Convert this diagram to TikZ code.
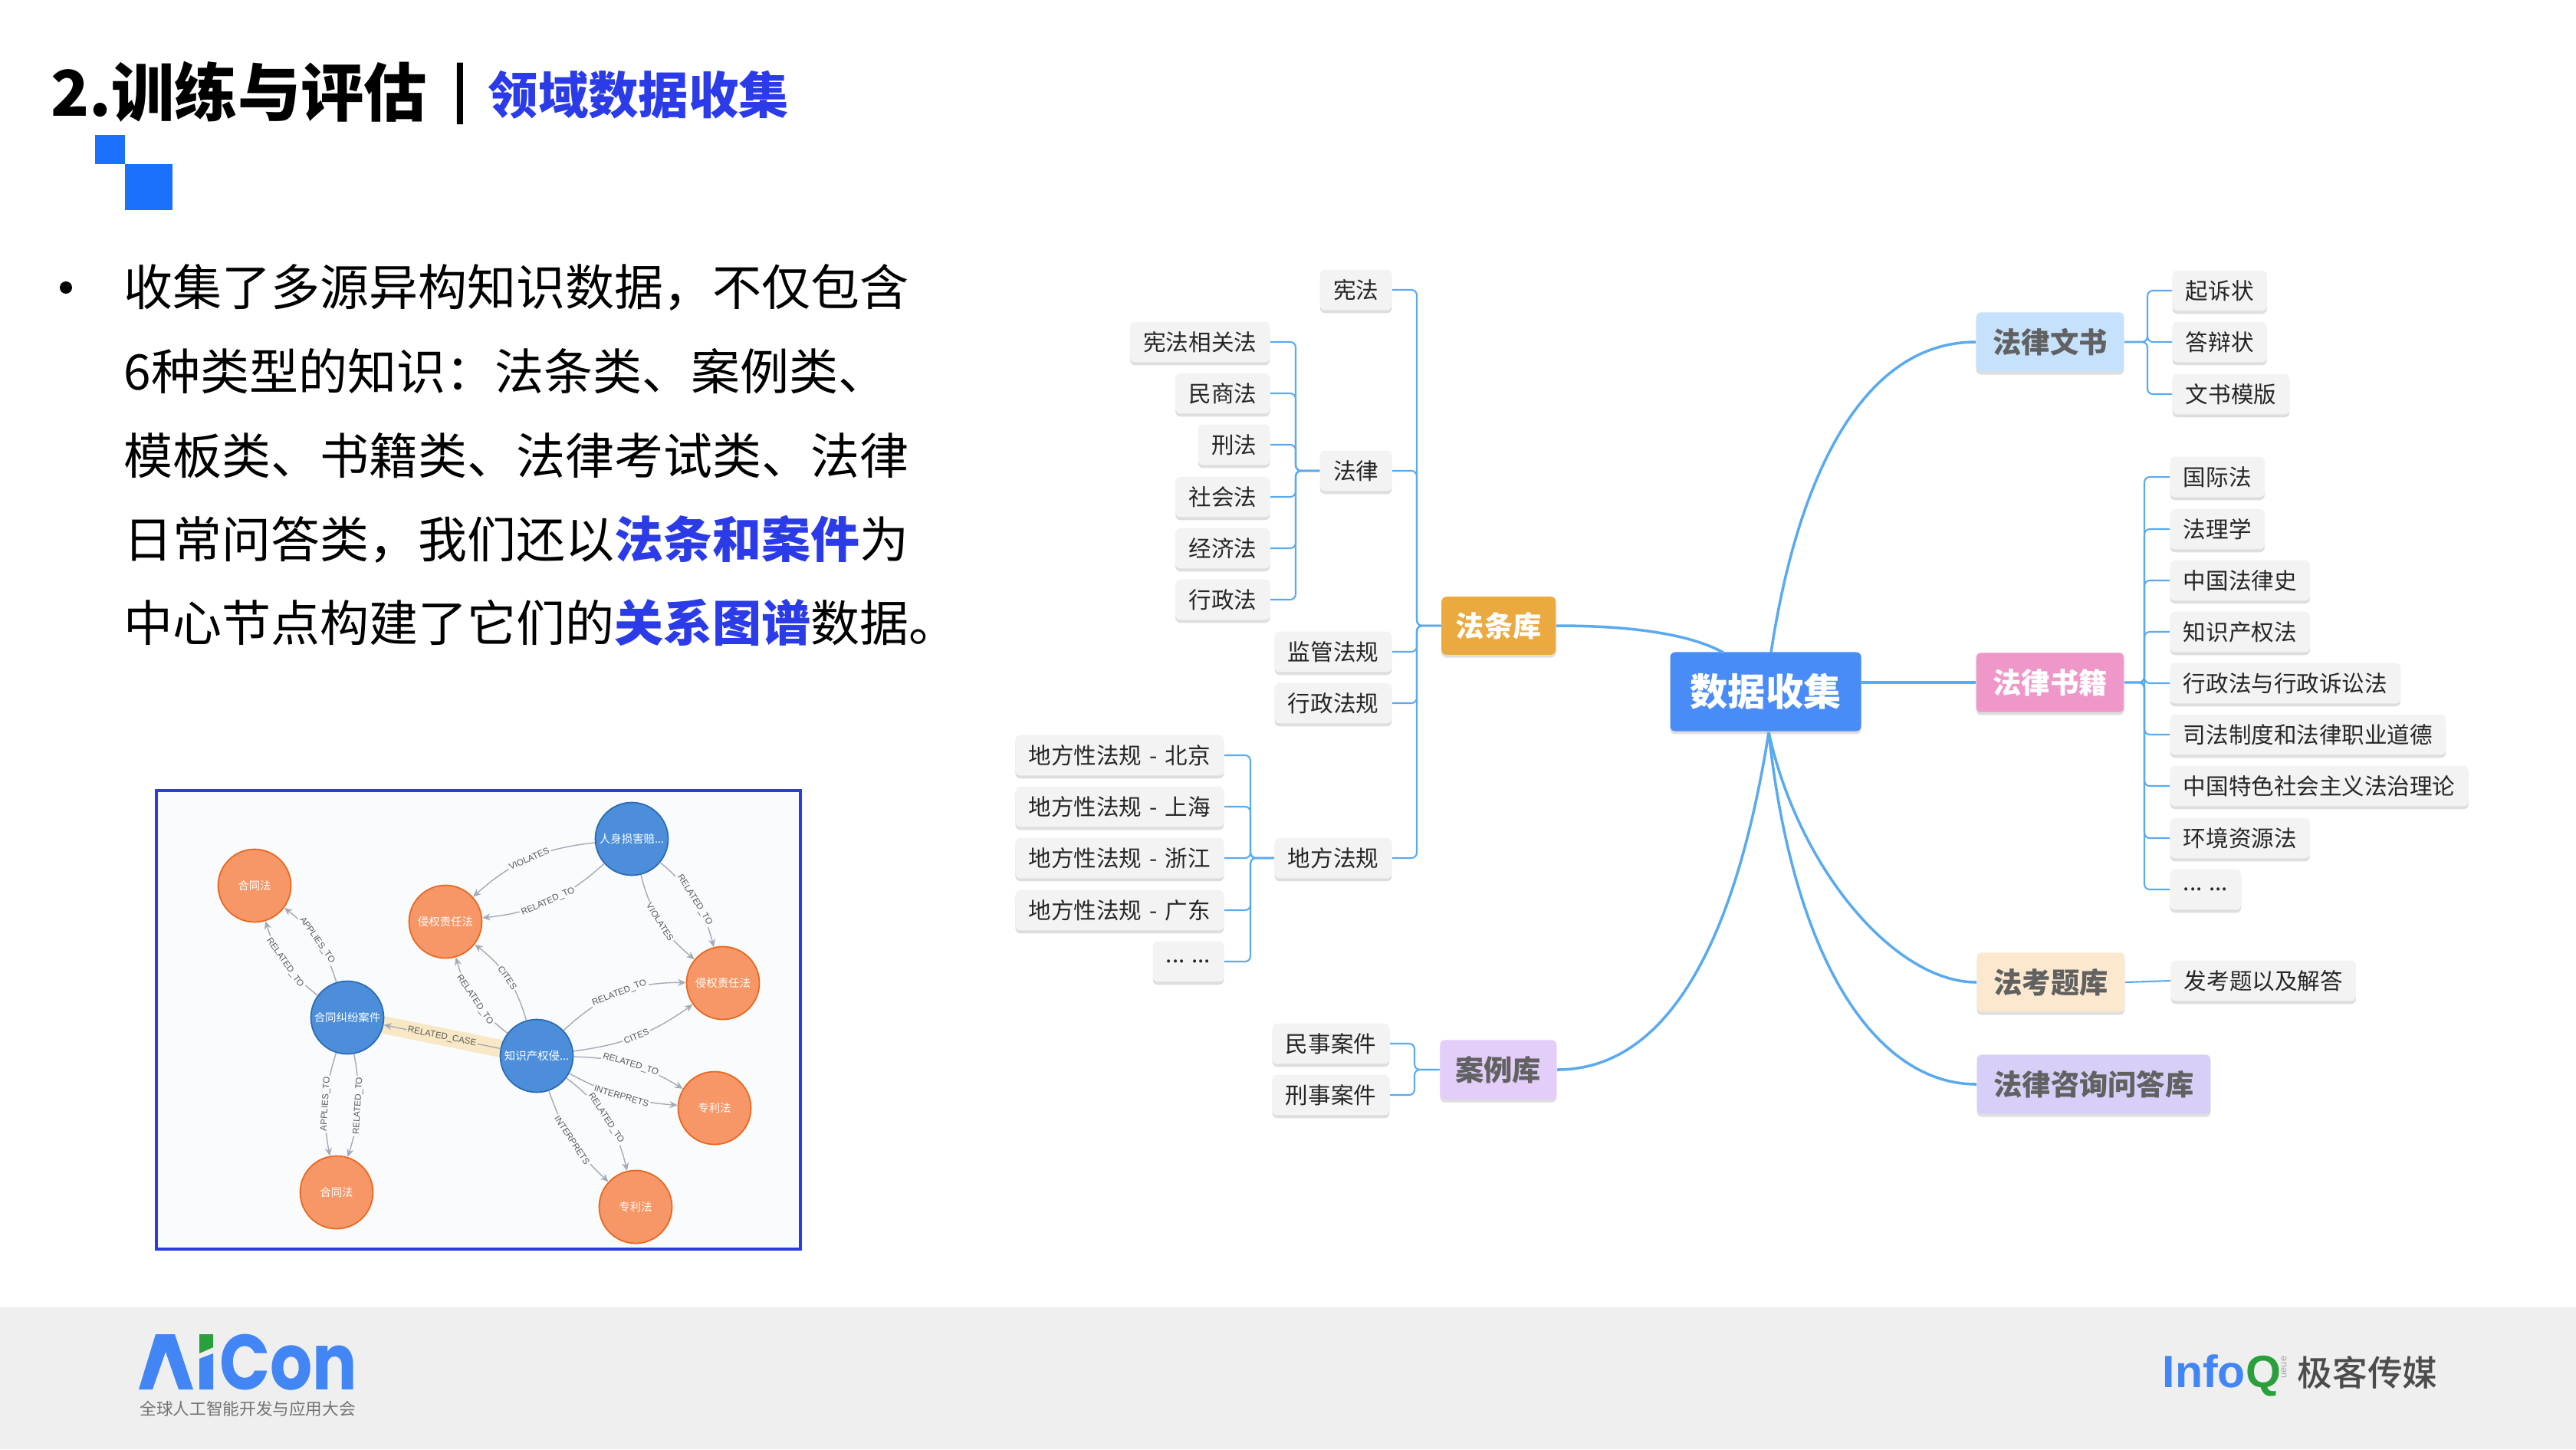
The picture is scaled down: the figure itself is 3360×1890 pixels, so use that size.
\documentclass[tikz,border=0pt]{standalone}
\usepackage{fontspec}
\setmainfont{Noto Sans CJK SC}
\newfontfamily\edgefont{Liberation Sans}
\newfontfamily\logofont{Poppins}
\newfontfamily\medfont{Noto Sans CJK SC Medium}
\usepackage{tikz}
\usetikzlibrary{calc, positioning, arrows.meta, shadows}
\definecolor{slideBlue}{RGB}{43,59,232}
\definecolor{squareBlue}{RGB}{27,112,252}
\definecolor{footGrey}{RGB}{239,239,239}
\definecolor{logoBlue}{RGB}{66,133,244}
\definecolor{logoGreen}{RGB}{42,160,60}
\definecolor{linkBlue}{RGB}{90,170,238}
\definecolor{leafGrey}{RGB}{243,243,243}
\definecolor{coreBlue}{RGB}{74,140,247}
\definecolor{statuteGold}{RGB}{235,170,63}
\definecolor{caseLilac}{RGB}{227,205,249}
\definecolor{docSky}{RGB}{197,225,252}
\definecolor{bookPink}{RGB}{239,151,200}
\definecolor{examPeach}{RGB}{251,232,207}
\definecolor{qaLavender}{RGB}{216,207,248}
\definecolor{panelBg}{RGB}{249,251,253}
\definecolor{edgeGrey}{RGB}{165,171,182}
\definecolor{caseFill}{RGB}{76,142,218}
\definecolor{caseEdge}{RGB}{42,107,181}
\definecolor{lawFill}{RGB}{247,151,103}
\definecolor{lawEdge}{RGB}{233,103,31}
\definecolor{glowTan}{RGB}{249,232,197}
\newcommand{\cutdots}{...}
\newcommand{\moredots}{... ...}
\newcommand{\citydash}{\kern.12em{} - {}\kern.12em}
\tikzset{
  softshadow/.style={drop shadow={shadow xshift=0pt, shadow yshift=-1.1pt, fill=black!13, opacity=1}},
  leafbox/.style={rounded corners=1.8pt, fill=leafGrey, softshadow, inner xsep=4.9pt, inner ysep=0pt,
    minimum height=15pt, font=\fontsize{8.4}{10}\selectfont, text=black!85},
  mainbox/.style={rounded corners=1.8pt, softshadow, inner xsep=6.2pt, inner ysep=0pt,
    minimum height=22pt, font=\fontsize{10.6}{12}\selectfont\bfseries},
  branch/.style={linkBlue, line width=0.6pt, rounded corners=2pt},
  trunk/.style={linkBlue, line width=1pt},
  bodyline/.style={anchor=west, inner sep=0pt, font=\fontsize{18.2}{22}\selectfont},
  kgnode/.style={circle, minimum size=27pt, inner sep=0pt, line width=0.5pt, text=white,
    font=\fontsize{4.1}{5}\selectfont},
  kgcase/.style={kgnode, fill=caseFill, draw=caseEdge},
  kglaw/.style={kgnode, fill=lawFill, draw=lawEdge},
  kgedge/.style={edgeGrey, line width=0.4pt, -{Stealth[length=3pt,width=2.6pt]}},
  kglabel/.style={midway, sloped, fill=panelBg, inner sep=0.5pt, text=black!65,
    font=\edgefont\fontsize{3.3}{4}\selectfont},
}
\begin{document}
\begin{tikzpicture}[x=0.01cm, y=-0.01cm]
\useasboundingbox (0,0) rectangle (3360,1890);
% Footer band
\fill[footGrey] (0,1705) rectangle (3360,1890);
% Title
\node[anchor=west, inner sep=0pt, font=\fontsize{23.4}{28}\selectfont\bfseries] (title) at (66,120) {2.训练与评估};
\node[anchor=center, inner sep=0pt, font=\fontsize{20}{24}\selectfont\bfseries] (titlebar) at (600,122) {|};
\node[anchor=west, inner sep=0pt, text=slideBlue, font=\fontsize{18.6}{22}\selectfont\bfseries] (subtitle) at (636,124) {领域数据收集};
\fill[squareBlue] (124,176) rectangle (163,214);
\fill[squareBlue] (163,214) rectangle (225,274);
% Body text
\fill[black] (86,375) circle (8);
\node[bodyline] (lineA) at (161,375) {收集了多源异构知识数据，不仅包含};
\node[bodyline] (lineB) at (161,484) {6种类型的知识：法条类、案例类、};
\node[bodyline] (lineC) at (161,594) {模板类、书籍类、法律考试类、法律};
\node[bodyline] (lineD) at (161,703) {日常问答类，我们还以{\color{slideBlue}\bfseries 法条和案件}为};
\node[bodyline] (lineE) at (161,812) {中心节点构建了它们的{\color{slideBlue}\bfseries 关系图谱}数据。};
% Graph panel
\draw[fill=panelBg, draw=slideBlue, line width=1.1pt] (204,1031) rectangle (1044,1629);
\draw[glowTan, line width=6.5pt] (453,1327) -- (700,1377);
\foreach \id/\px/\py/\txt in {lawA/332/1155/合同法, lawB/581/1202/侵权责任法, lawC/943/1282/侵权责任法,
  lawD/932/1445/专利法, lawE/829/1574/专利法, lawF/439/1555/合同法} {
  \node[kglaw] (\id) at (\px,\py) {\txt};
}
\foreach \id/\px/\py/\txt in {caseA/824/1094/人身损害赔\cutdots, caseB/453/1327/合同纠纷案件, caseC/700/1377/知识产权侵\cutdots} {
  \node[kgcase] (\id) at (\px,\py) {\txt};
}
\foreach \tail/\head/\lab/\ang in {caseA/lawB/VIOLATES/-18, caseA/lawB/RELATED\_TO/18, caseA/lawC/RELATED\_TO/18,
  caseA/lawC/VIOLATES/-18, caseC/lawB/CITES/-18, caseC/lawB/RELATED\_TO/18, caseC/lawC/RELATED\_TO/22,
  caseC/lawC/CITES/-14, caseC/lawD/RELATED\_TO/15, caseC/lawD/INTERPRETS/-12, caseC/lawE/RELATED\_TO/20,
  caseC/lawE/INTERPRETS/-14, caseB/lawA/APPLIES\_TO/-18, caseB/lawA/RELATED\_TO/18, caseB/lawF/APPLIES\_TO/-14,
  caseB/lawF/RELATED\_TO/14} {
  \draw[kgedge, bend left=\ang] (\tail) to node[kglabel] {\lab} (\head);
}
\draw[kgedge] (caseC) to node[kglabel, fill=glowTan] {RELATED\_CASE} (caseB);
% Mind map roots
\node[rounded corners=1.8pt, fill=coreBlue, softshadow, text=white, minimum width=70.8pt, minimum height=29.3pt,
  inner sep=0pt, font=\fontsize{14}{16}\selectfont\bfseries] (core) at (2303,902) {数据收集};
\node[mainbox, fill=statuteGold, text=white, inner xsep=5.3pt, minimum height=21.5pt, anchor=east] (statute) at (2030,816) {法条库};
\node[mainbox, fill=caseLilac, text=black!62, inner xsep=5.7pt, anchor=east] (caselib) at (2031,1395) {案例库};
\node[mainbox, fill=docSky, text=black!62, anchor=west] (docs) at (2577,446) {法律文书};
\node[mainbox, fill=bookPink, text=white, anchor=west] (books) at (2577,890) {法律书籍};
\node[mainbox, fill=examPeach, text=black!62, anchor=west] (exam) at (2578,1281) {法考题库};
\node[mainbox, fill=qaLavender, text=black!62, anchor=west] (qa) at (2578,1414) {法律咨询问答库};
% Trunk curves
\coordinate (coreTop) at (2310,851);
\coordinate (coreBot) at (2307,955);
\draw[trunk] (statute.east) .. controls (2120,816) and (2200,825) .. (2248,851);
\draw[trunk] (caselib.east) .. controls (2170,1395) and (2262,1240) .. (coreBot);
\draw[trunk] (coreTop) .. controls (2345,620) and (2430,446) .. (docs.west);
\draw[trunk] (core.east |- books.west) -- (books.west);
\draw[trunk] (coreBot) .. controls (2345,1130) and (2470,1281) .. (exam.west);
\draw[trunk] (coreBot) .. controls (2340,1260) and (2450,1414) .. (qa.west);
% Left side, second level
\foreach \id/\yy/\txt in {lawXianfa/378/宪法, lawFalv/614/法律, lawJianguan/850/监管法规, lawXingzheng/917/行政法规, lawDifang/1119/地方法规} {
  \node[leafbox, anchor=east] (\id) at (1816,\yy) {\txt};
}
\foreach \id/\yy/\txt in {subXianfa/446/宪法相关法, subMinshang/513/民商法, subXingfa/580/刑法, subShehui/648/社会法, subJingji/715/经济法, subXingzheng/782/行政法} {
  \node[leafbox, anchor=east] (\id) at (1657,\yy) {\txt};
}
\foreach \id/\yy/\txt in {cityBj/985/地方性法规\citydash 北京, citySh/1052/地方性法规\citydash 上海, cityZj/1119/地方性法规\citydash 浙江, cityGd/1187/地方性法规\citydash 广东, cityEtc/1254/\moredots} {
  \node[leafbox, anchor=east] (\id) at (1597,\yy) {\txt};
}
\foreach \id/\yy/\txt in {caseCivil/1361/民事案件, caseCrime/1428/刑事案件} {
  \node[leafbox, anchor=east] (\id) at (1813,\yy) {\txt};
}
% Right side, leaves
\foreach \id/\yy/\txt in {docSue/379/起诉状, docReply/446/答辩状, docForm/514/文书模版} {
  \node[leafbox, anchor=west] (\id) at (2833,\yy) {\txt};
}
\foreach \id/\yy/\txt in {bkIntl/622/国际法, bkTheory/690/法理学, bkHist/757/中国法律史, bkIp/824/知识产权法, bkAdmin/891/行政法与行政诉讼法,
  bkJudge/958/司法制度和法律职业道德, bkSocial/1025/中国特色社会主义法治理论, bkEnv/1093/环境资源法, bkEtc/1160/\moredots} {
  \node[leafbox, anchor=west] (\id) at (2830,\yy) {\txt};
}
\node[leafbox, anchor=west] (examQa) at (2831,1279) {发考题以及解答};
% Tree links
\coordinate (busMain) at (1848,816);
\coordinate (busLaw) at (1690,614);
\coordinate (busCity) at (1631,1119);
\coordinate (busCase) at (1845,1395);
\coordinate (busDoc) at (2801,446);
\coordinate (busBook) at (2797,890);
\foreach \kid in {lawXianfa, lawFalv, lawJianguan, lawXingzheng, lawDifang} {
  \draw[branch] (\kid.east) -- (\kid.east -| busMain) -- (busMain) -- (statute.west);
}
\foreach \kid in {subXianfa, subMinshang, subXingfa, subShehui, subJingji, subXingzheng} {
  \draw[branch] (\kid.east) -- (\kid.east -| busLaw) -- (busLaw) -- (lawFalv.west);
}
\foreach \kid in {cityBj, citySh, cityZj, cityGd, cityEtc} {
  \draw[branch] (\kid.east) -- (\kid.east -| busCity) -- (busCity) -- (lawDifang.west);
}
\foreach \kid in {caseCivil, caseCrime} {
  \draw[branch] (\kid.east) -- (\kid.east -| busCase) -- (busCase) -- (caselib.west);
}
\foreach \kid in {docSue, docReply, docForm} {
  \draw[branch] (\kid.west) -- (\kid.west -| busDoc) -- (busDoc) -- (docs.east);
}
\foreach \kid in {bkIntl, bkTheory, bkHist, bkIp, bkAdmin, bkJudge, bkSocial, bkEnv, bkEtc} {
  \draw[branch] (\kid.west) -- (\kid.west -| busBook) -- (busBook) -- (books.east);
}
\draw[branch] (exam.east) -- (examQa.west);
% Footer logos
\node[anchor=base west, inner sep=0pt, text=logoBlue, xscale=0.85, font=\logofont\bfseries\fontsize{29}{32}\selectfont] (aicon) at (178,1812) {Ai\kern6.2pt Con};
\fill[footGrey] (174,1728) rectangle (285,1816);
\fill[logoBlue] (181,1812) -- (203,1740) -- (228,1740) -- (252,1812) -- (233,1812) -- (216,1763) -- (199,1812) -- cycle;
\fill[logoGreen] (260,1740) -- (278,1740) -- (278,1757) -- (260,1765) -- cycle;
\fill[logoBlue] (260,1772) -- (278,1765) -- (278,1812) -- (260,1812) -- cycle;
\node[anchor=west, inner sep=0pt, text=black!55, font=\fontsize{6.15}{8}\selectfont] (aiconSub) at (182,1837) {全球人工智能开发与应用大会};
\node[anchor=base west, inner sep=0pt, font=\edgefont\bfseries\fontsize{16.8}{20}\selectfont] (infoq) at (2820,1809) {{\color{logoBlue}Info}{\color{logoGreen}Q}};
\node[anchor=center, rotate=90, inner sep=0pt, text=black!35, font=\edgefont\fontsize{3.6}{4}\selectfont] (queue) at (2979,1783) {ueue};
\node[anchor=west, inner sep=0pt, text=black!70, font=\medfont\fontsize{13}{15}\selectfont] (geekbang) at (2996,1790) {极客传媒};
\end{tikzpicture}
\end{document}
